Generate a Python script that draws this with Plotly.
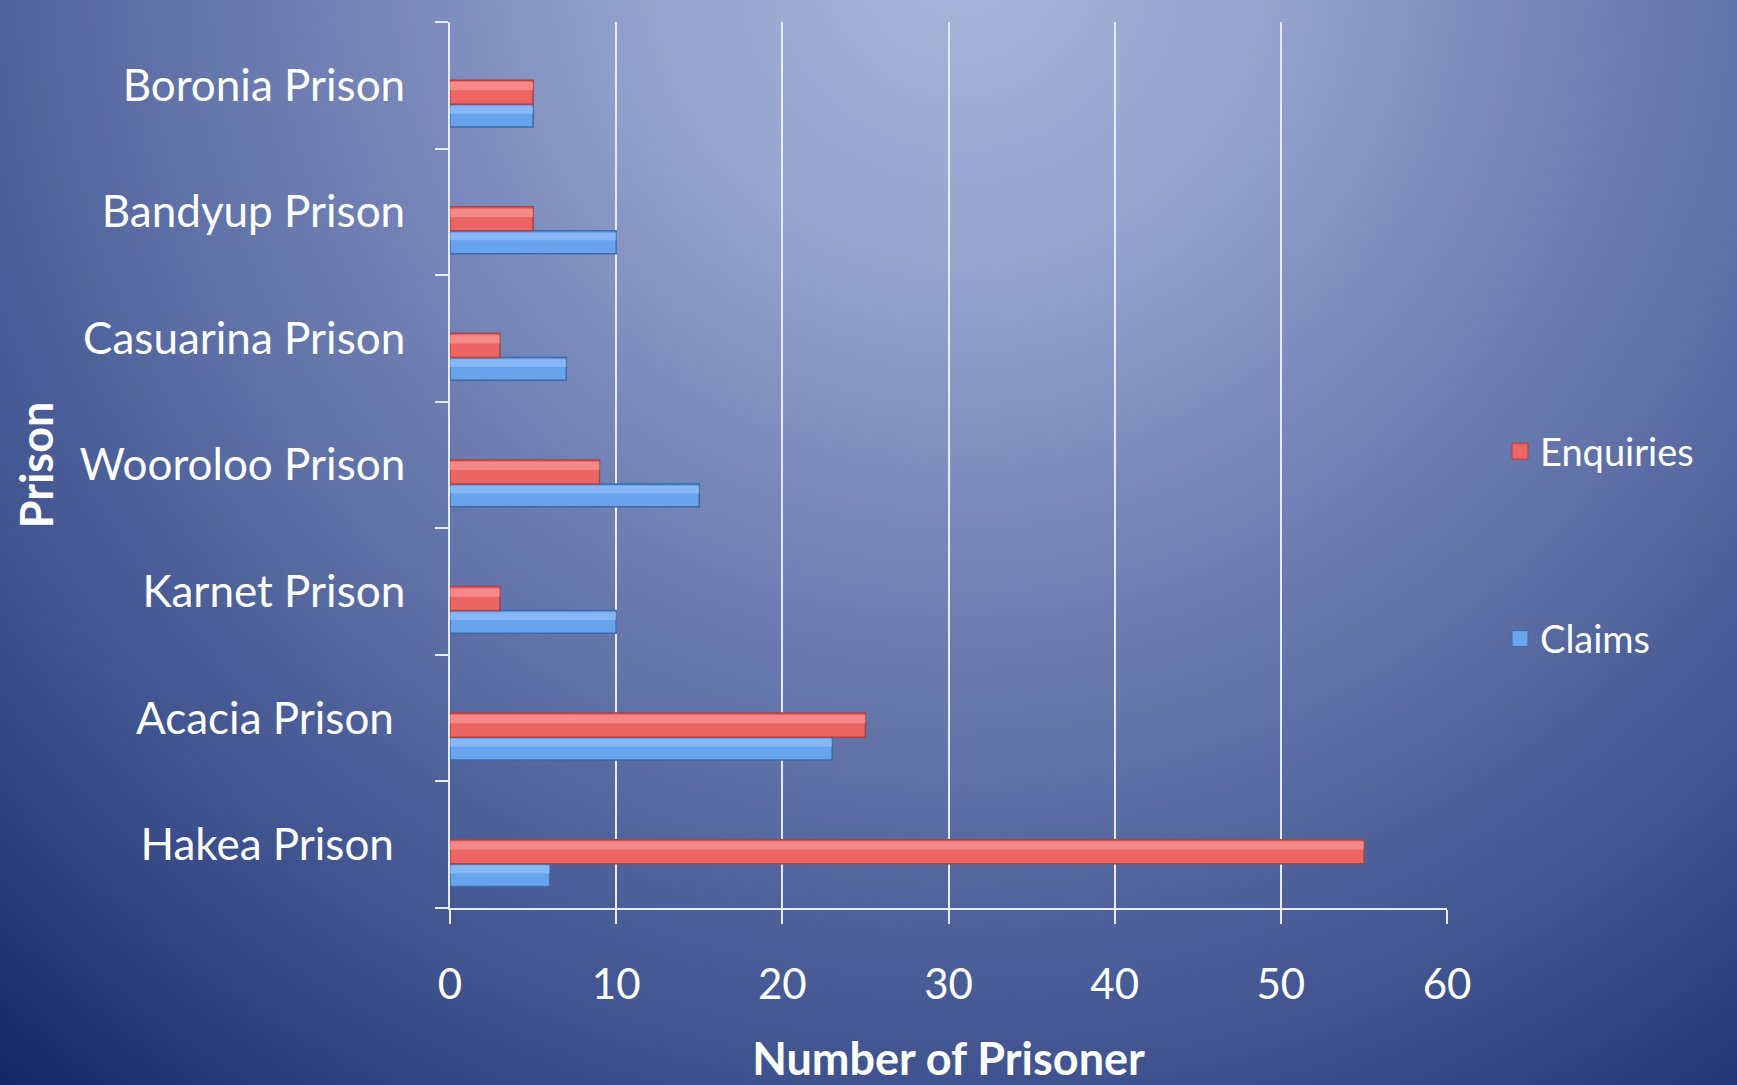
import base64
import plotly.graph_objects as go

# ---- data ----
prisons = ["Hakea Prison", "Acacia Prison", "Karnet Prison", "Wooroloo Prison",
           "Casuarina Prison", "Bandyup Prison", "Boronia Prison"]
prison_tick_labels = ["Hakea Prison\u00a0", "Acacia Prison\u00a0", "Karnet Prison", "Wooroloo Prison",
                      "Casuarina Prison", "Bandyup Prison", "Boronia Prison"]
enquiries = [55, 25, 3, 9, 3, 5, 5]
claims = [6, 23, 10, 15, 7, 10, 5]
x_ticks = [0, 10, 20, 30, 40, 50, 60]

W, H = 1737, 1085
L, R, T, B = 450, 290, 22, 177
PW, PH = W - L - R, H - T - B

# ---- background radial gradient (decoration) ----
svg = f'''<svg xmlns="http://www.w3.org/2000/svg" width="{W}" height="{H}" viewBox="0 0 {W} {H}" preserveAspectRatio="none">
<defs><radialGradient id="g" gradientUnits="userSpaceOnUse" cx="960" cy="-40" r="1500">
<stop offset="0" stop-color="#A7B5DA"/>
<stop offset="0.2" stop-color="#96A4CE"/>
<stop offset="0.4" stop-color="#7584B7"/>
<stop offset="0.55" stop-color="#5E70A6"/>
<stop offset="0.66" stop-color="#4C5F99"/>
<stop offset="0.77" stop-color="#3C508D"/>
<stop offset="0.9" stop-color="#233876"/>
<stop offset="1" stop-color="#0E2362"/>
</radialGradient></defs>
<rect x="0" y="0" width="{W}" height="{H}" fill="url(#g)"/>
</svg>'''
bg_src = "data:image/svg+xml;base64," + base64.b64encode(svg.encode()).decode()

FONT = "Lato"
WHITE = "#FFFFFF"
RED, RED_EDGE = "#EC6464", "#A84545"
BLUE, BLUE_EDGE = "#68A3EE", "#3D6AA6"

fig = go.Figure()

# main bars
fig.add_trace(go.Bar(
    y=prisons, x=claims, orientation="h", name="Claims",
    showlegend=False, offset=-0.33, width=0.18,
    marker=dict(color=BLUE, line=dict(color=BLUE_EDGE, width=1.5)),
))
fig.add_trace(go.Bar(
    y=prisons, x=enquiries, orientation="h", name="Enquiries",
    showlegend=False, offset=-0.15, width=0.19,
    marker=dict(color=RED, line=dict(color=RED_EDGE, width=1.5)),
))
# glossy highlights (same data, no legend)
fig.add_trace(go.Bar(
    y=prisons, x=claims, orientation="h", showlegend=False, hoverinfo="skip",
    offset=-0.225, width=0.06,
    marker=dict(color="rgba(160,200,255,0.55)", line=dict(width=0)),
))
fig.add_trace(go.Bar(
    y=prisons, x=enquiries, orientation="h", showlegend=False, hoverinfo="skip",
    offset=-0.04, width=0.065,
    marker=dict(color="rgba(255,165,165,0.55)", line=dict(width=0)),
))
# legend entries (square swatches)
fig.add_trace(go.Scatter(
    x=[None], y=[None], mode="markers", name="Enquiries", legendgroup="enq",
    marker=dict(symbol="square", size=28, color=RED, line=dict(color=RED_EDGE, width=1)),
))
fig.add_trace(go.Scatter(
    x=[None], y=[None], mode="markers", name="Claims", legendgroup="cla",
    marker=dict(symbol="square", size=28, color=BLUE, line=dict(color=BLUE_EDGE, width=1)),
))

fig.update_layout(
    width=W, height=H, autosize=False,
    margin=dict(l=L, r=R, t=T, b=B, pad=0),
    paper_bgcolor="#3F5391",
    plot_bgcolor="rgba(0,0,0,0)",
    barmode="overlay",
    font=dict(family=FONT, color=WHITE, size=40),
    images=[dict(
        source=bg_src, xref="paper", yref="paper",
        x=-L / PW, y=1 + T / PH, sizex=W / PW, sizey=H / PH,
        xanchor="left", yanchor="top", sizing="stretch", layer="below",
    )],
    legend=dict(
        x=(1500 - L) / PW, y=(T + PH - 420) / PH,
        xanchor="left", yanchor="top",
        traceorder="grouped", tracegroupgap=135,
        font=dict(family=FONT, size=38, color=WHITE),
        bgcolor="rgba(0,0,0,0)",
    ),
    showlegend=True,
)

fig.update_xaxes(
    range=[0, 60], tickvals=x_ticks, ticktext=[str(v) for v in x_ticks],
    showgrid=True, gridcolor="#E6EAF4", gridwidth=1.5,
    showline=True, linecolor="#E6EAF4", linewidth=2,
    ticks="outside", ticklen=14, tickcolor="#E6EAF4", tickwidth=1.5,
    tickfont=dict(family=FONT, size=42, color=WHITE),
    ticklabelstandoff=25,
    zeroline=False,
    title=dict(text="<b>Number of Prisoner</b>", font=dict(family=FONT, size=45, color=WHITE), standoff=46),
    automargin=False,
)
fig.update_yaxes(
    type="category", categoryorder="array", categoryarray=prisons,
    tickvals=prisons, ticktext=prison_tick_labels,
    range=[-0.5, len(prisons) - 0.5],
    showgrid=False,
    showline=True, linecolor="#E6EAF4", linewidth=2,
    ticks="outside", tickson="boundaries", ticklen=13, tickcolor="#E6EAF4", tickwidth=1.5,
    tickfont=dict(family=FONT, size=44, color=WHITE),
    ticklabelstandoff=34,
    title=dict(text="<b>Prison</b>", font=dict(family=FONT, size=45, color=WHITE), standoff=12),
    automargin=False,
)

fig.write_html(
    "out.html",
    config={"displayModeBar": False},
    post_script="document.body.style.margin='0';document.body.style.overflow='hidden';",
)
